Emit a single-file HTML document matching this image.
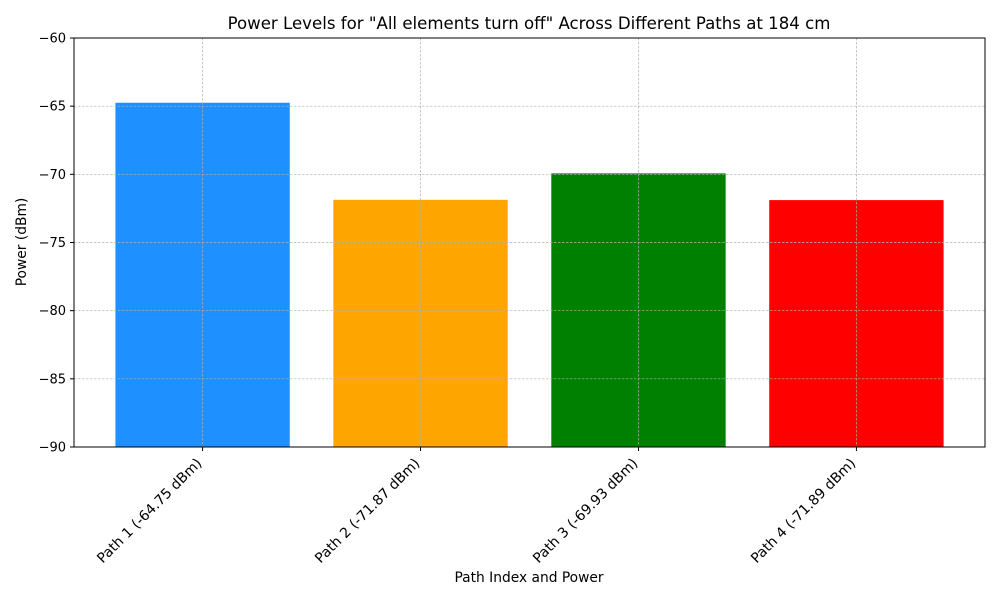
<!DOCTYPE html>
<html><head><meta charset="utf-8"><style>body{margin:0;background:#fff}svg{font-family:"DejaVu Sans","Liberation Sans",sans-serif}</style></head>
<body>
<svg id="chart" width="1000" height="600">
<rect width="1000" height="600" fill="#fff"/>
<text x="529" y="29" text-anchor="middle" font-size="16.6">Power Levels for "All elements turn off" Across Different Paths at 184 cm</text>
<g id="bars"></g><g id="grid"></g><g id="axes"></g>
<text x="529" y="582" text-anchor="middle" font-size="13.8">Path Index and Power</text>
<text transform="translate(26,242) rotate(-90)" text-anchor="middle" font-size="13.8">Power (dBm)</text>
</svg>
<script>
const categories=["Path 1 (-64.75 dBm)","Path 2 (-71.87 dBm)","Path 3 (-69.93 dBm)","Path 4 (-71.89 dBm)"];
const values=[-64.75,-71.87,-69.93,-71.89];
const colors=["#1e90ff","#ffa500","#008000","#ff0000"];
const yTicks=[-60,-65,-70,-75,-80,-85,-90];
const L=74,R=985,T=38,B=447,ymin=-90,ymax=-60,xmin=-0.59,xmax=3.59;
const ns="http://www.w3.org/2000/svg";
const X=v=>L+(v-xmin)/(xmax-xmin)*(R-L);
const Y=v=>B-(v-ymin)/(ymax-ymin)*(B-T);
function mk(tag,attrs,parent){const e=document.createElementNS(ns,tag);for(const k in attrs)e.setAttribute(k,attrs[k]);document.getElementById(parent).appendChild(e);return e;}
const bw=X(0.4)-X(-0.4);
values.forEach((v,i)=>{
 const r=mk('rect',{x:X(i)-bw/2,y:Y(v),width:bw,height:B-Y(v),fill:colors[i]},'bars');
 
 
 const g=mk('line',{x1:X(i),x2:X(i),y1:T,y2:B,stroke:'#b0b0b0','stroke-width':0.7,'stroke-dasharray':'2.5,1.5'},'grid');
 
 
 mk('line',{x1:X(i),x2:X(i),y1:B,y2:B+4,stroke:'#000'},'axes');
 const t=mk('text',{x:0,y:0,'text-anchor':'end','font-size':14,transform:`translate(${X(i)},${B+17}) rotate(-45)`},'axes');
 t.textContent=categories[i];
 
 
});
yTicks.forEach(v=>{
 const g=mk('line',{x1:L,x2:R,y1:Y(v),y2:Y(v),stroke:'#b0b0b0','stroke-width':0.7,'stroke-dasharray':'2.5,1.5'},'grid');
 
 
 mk('line',{x1:L-4,x2:L,y1:Y(v),y2:Y(v),stroke:'#000'},'axes');
 const t=mk('text',{x:L-8,y:Y(v)+4.5,'text-anchor':'end','font-size':13},'axes');
 t.textContent='\u2212'+Math.abs(v);
 
 
});
const f=mk('rect',{x:L,y:T,width:R-L,height:B-T,fill:'none',stroke:'#000','stroke-width':1},'axes');


</script>
</body></html>
